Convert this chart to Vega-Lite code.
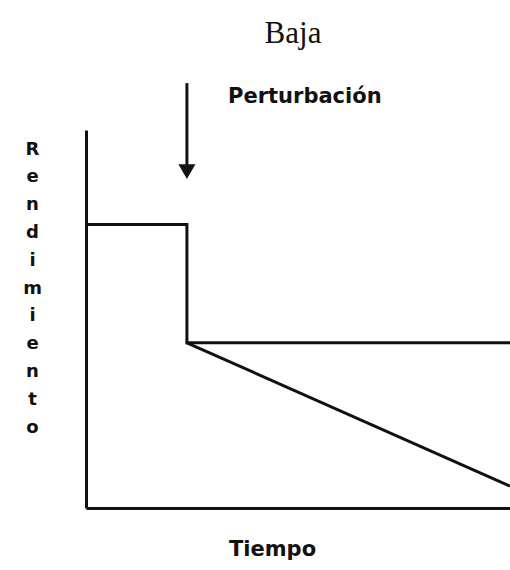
{
  "$schema": "https://vega.github.io/schema/vega-lite/v6.json",
  "autosize": {"type": "none"},
  "padding": {"left": 86, "top": 130, "right": 0, "bottom": 62},
  "width": 424,
  "height": 378,
  "background": "white",
  "config": {"view": {"stroke": null}},
  "title": {
    "text": "Baja",
    "font": "Liberation Serif",
    "fontSize": 31,
    "fontWeight": "normal",
    "color": "#111",
    "anchor": "middle",
    "baseline": "alphabetic",
    "dx": -5,
    "offset": 8
  },
  "datasets": {
    "lines": [
      {"tiempo": 0, "rendimiento": 7.5, "serie": "estable", "orden": 1},
      {"tiempo": 2.38, "rendimiento": 7.5, "serie": "estable", "orden": 2},
      {"tiempo": 2.38, "rendimiento": 4.37, "serie": "estable", "orden": 3},
      {"tiempo": 10, "rendimiento": 4.37, "serie": "estable", "orden": 4},
      {"tiempo": 2.38, "rendimiento": 4.37, "serie": "declive", "orden": 1},
      {"tiempo": 10, "rendimiento": 0.58, "serie": "declive", "orden": 2}
    ],
    "arrow": [
      {"tiempo": 2.38, "desde": 11.24, "hasta": 9.0, "punta": 8.9}
    ],
    "label": [
      {"tiempo": 3.35, "rendimiento": 10.87, "texto": "Perturbación"}
    ]
  },
  "layer": [
    {
      "data": {"name": "lines"},
      "mark": {"type": "line", "color": "#111", "strokeWidth": 3, "clip": false, "strokeJoin": "miter"},
      "encoding": {
        "x": {
          "field": "tiempo", "type": "quantitative",
          "scale": {"domain": [0, 10], "nice": false, "zero": false},
          "axis": {
            "title": "Tiempo",
            "titleFont": "DejaVu Sans", "titleFontSize": 21, "titleFontWeight": "bold", "titleColor": "#111",
            "titleX": 186, "titleY": 47, "titleBaseline": "alphabetic", "titleAlign": "center",
            "domainColor": "#111", "domainWidth": 3,
            "ticks": false, "labels": false, "grid": false
          }
        },
        "y": {
          "field": "rendimiento", "type": "quantitative",
          "scale": {"domain": [0, 10], "nice": false, "zero": false},
          "axis": {
            "title": ["R", "e", "n", "d", "i", "m", "i", "e", "n", "t", "o"],
            "titleFont": "DejaVu Sans", "titleFontSize": 18, "titleFontWeight": "bold", "titleColor": "#111",
            "titleAngle": 0, "titleAlign": "center", "titleBaseline": "alphabetic",
            "titleLineHeight": 27.8,
            "titleX": -54, "titleY": 24,
            "domainColor": "#111", "domainWidth": 3,
            "ticks": false, "labels": false, "grid": false
          }
        },
        "detail": {"field": "serie"},
        "order": {"field": "orden"}
      }
    },
    {
      "data": {"name": "arrow"},
      "mark": {"type": "rule", "color": "#111", "strokeWidth": 3, "clip": false},
      "encoding": {
        "x": {"field": "tiempo", "type": "quantitative"},
        "y": {"field": "desde", "type": "quantitative"},
        "y2": {"field": "hasta"}
      }
    },
    {
      "data": {"name": "arrow"},
      "mark": {"type": "point", "shape": "triangle-down", "filled": true, "color": "#111", "size": 290, "opacity": 1, "clip": false},
      "encoding": {
        "x": {"field": "tiempo", "type": "quantitative"},
        "y": {"field": "punta", "type": "quantitative"}
      }
    },
    {
      "data": {"name": "label"},
      "mark": {"type": "text", "font": "DejaVu Sans", "fontSize": 21, "fontWeight": "bold", "color": "#111", "align": "left", "baseline": "middle", "clip": false},
      "encoding": {
        "x": {"field": "tiempo", "type": "quantitative"},
        "y": {"field": "rendimiento", "type": "quantitative"},
        "text": {"field": "texto"}
      }
    }
  ]
}
